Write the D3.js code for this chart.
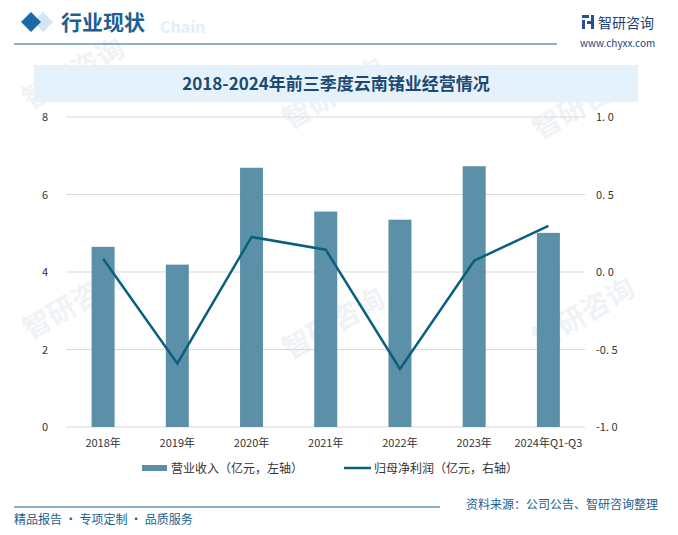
<!DOCTYPE html>
<html>
<head>
<meta charset="utf-8">
<script src="https://cdn.jsdelivr.net/npm/d3@7"></script>
<style>
  body { margin: 0; background: #fff; }
  svg text { font-family: "Noto Sans CJK SC", "Noto Sans", sans-serif; }
</style>
</head>
<body>
<div class="plot1"></div>
<script>
// data
var years = ["2018年", "2019年", "2020年", "2021年", "2022年", "2023年", "2024年Q1-Q3"];
var revenue = [4.65, 4.19, 6.69, 5.56, 5.35, 6.73, 5.01];
var netProfit = [0.086, -0.59, 0.226, 0.144, -0.626, 0.073, 0.297];
var leftTicks = [0, 2, 4, 6, 8];
var rightTicks = [-1.0, -0.5, 0.0, 0.5, 1.0];

var width = 678;
var height = 535;
var darkBlue = "#1b5e92";

var svg = d3.select(".plot1").append("svg")
  .attr("width", width)
  .attr("height", height);

// faint watermarks
var wm = svg.append("g").attr("fill", "#f0f3f6").attr("font-size", 28).attr("font-weight", "bold");
[[30, 110], [290, 130], [540, 140], [30, 340], [290, 360], [540, 350]].forEach(function(p) {
  wm.append("text")
    .attr("transform", "translate(" + p[0] + "," + p[1] + ") rotate(-30)")
    .text("智研咨询");
});

// header
svg.append("path")
  .attr("d", "M43,12 L53,22 L43,32 L33,22 Z")
  .attr("fill", "#d3e6f3");
svg.append("path")
  .attr("d", "M31,12 L41,22 L31,32 L21,22 Z")
  .attr("fill", "#1a6aa6");
svg.append("text")
  .attr("x", 160).attr("y", 33)
  .attr("font-size", 16).attr("font-weight", "bold")
  .attr("fill", "#e3eef8")
  .text("Chain");
svg.append("text")
  .attr("x", 61).attr("y", 30)
  .attr("font-size", 21).attr("font-weight", "bold")
  .attr("fill", "#1d5f93")
  .text("行业现状");
svg.append("line")
  .attr("x1", 14).attr("x2", 557).attr("y1", 44).attr("y2", 44)
  .attr("stroke", darkBlue).attr("stroke-width", 1);

// logo
var logo = svg.append("g").attr("fill", "#2a4d9a");
logo.append("rect").attr("x", 582).attr("y", 15).attr("width", 7).attr("height", 3);
logo.append("rect").attr("x", 582).attr("y", 20).attr("width", 3).attr("height", 9);
logo.append("rect").attr("x", 587).attr("y", 21).attr("width", 7).attr("height", 3);
logo.append("rect").attr("x", 591).attr("y", 15).attr("width", 3).attr("height", 14);
svg.append("text")
  .attr("x", 598).attr("y", 28)
  .attr("font-size", 14).attr("fill", "#1e3f7a")
  .text("智研咨询");
svg.append("text")
  .attr("x", 580).attr("y", 47)
  .attr("font-size", 10).attr("fill", "#1e3f7a")
  .attr("font-family", "Liberation Serif")
  .text("www.chyxx.com");

// title box
svg.append("rect")
  .attr("x", 34).attr("y", 65).attr("width", 604).attr("height", 37)
  .attr("fill", "#e6f2fb");
svg.append("text")
  .attr("x", 336).attr("y", 90)
  .attr("text-anchor", "middle")
  .attr("font-size", 17).attr("font-weight", "bold")
  .attr("fill", "#1c4a72")
  .text("2018-2024年前三季度云南锗业经营情况");

// scales
var x = d3.scaleBand().domain(years).range([66, 585.5]);
var yL = d3.scaleLinear().domain([0, 8]).range([427, 117]);
var yR = d3.scaleLinear().domain([-1, 1]).range([427, 117]);

// grid
svg.append("g").selectAll("line")
  .data(leftTicks)
  .join("line")
  .attr("x1", 66).attr("x2", 585)
  .attr("y1", function(d) { return yL(d); })
  .attr("y2", function(d) { return yL(d); })
  .attr("stroke", "#d9d9d9").attr("stroke-width", 1);

// left axis
svg.append("g").selectAll("text")
  .data(leftTicks)
  .join("text")
  .attr("x", 48)
  .attr("y", function(d) { return yL(d) + 4; })
  .attr("text-anchor", "end")
  .attr("font-size", 11).attr("fill", "#333")
  .text(function(d) { return d; });

// right axis
svg.append("g").selectAll("text")
  .data(rightTicks)
  .join("text")
  .attr("x", 596)
  .attr("y", function(d) { return yR(d) + 4; })
  .attr("font-size", 11).attr("fill", "#333")
  .text(function(d) { return d3.format(".1f")(d).replace("−", "-").replace(".", ". "); });

// bars
svg.append("g").selectAll("rect")
  .data(revenue)
  .join("rect")
  .attr("x", function(d, i) { return x(years[i]) + x.bandwidth() / 2 - 11.5; })
  .attr("width", 23)
  .attr("y", function(d) { return yL(d); })
  .attr("height", function(d) { return yL(0) - yL(d); })
  .attr("fill", "#5c90a8");

// line
var line = d3.line()
  .x(function(d, i) { return x(years[i]) + x.bandwidth() / 2; })
  .y(function(d) { return yR(d); });
svg.append("path")
  .datum(netProfit)
  .attr("d", line)
  .attr("fill", "none")
  .attr("stroke", "#0b5f7e")
  .attr("stroke-width", 2.5);

// x labels
svg.append("g").selectAll("text")
  .data(years)
  .join("text")
  .attr("x", function(d) { return x(d) + x.bandwidth() / 2; })
  .attr("y", 447)
  .attr("text-anchor", "middle")
  .attr("font-size", 11).attr("fill", "#333")
  .text(function(d) { return d; });

// legend
svg.append("rect")
  .attr("x", 142).attr("y", 465).attr("width", 25).attr("height", 6)
  .attr("fill", "#5c90a8");
svg.append("text")
  .attr("x", 171).attr("y", 473)
  .attr("font-size", 12).attr("fill", "#333")
  .text("营业收入（亿元，左轴）");
svg.append("line")
  .attr("x1", 344).attr("x2", 371).attr("y1", 468).attr("y2", 468)
  .attr("stroke", "#0b5f7e").attr("stroke-width", 2.5);
svg.append("text")
  .attr("x", 374).attr("y", 473)
  .attr("font-size", 12).attr("fill", "#333")
  .text("归母净利润（亿元，右轴）");

// footer
svg.append("line")
  .attr("x1", 14).attr("x2", 440).attr("y1", 507).attr("y2", 507)
  .attr("stroke", darkBlue).attr("stroke-width", 1);
svg.append("text")
  .attr("x", 658).attr("y", 509)
  .attr("text-anchor", "end")
  .attr("font-size", 12).attr("fill", darkBlue)
  .text("资料来源：公司公告、智研咨询整理");
svg.append("text")
  .attr("x", 14).attr("y", 524)
  .attr("font-size", 12).attr("fill", darkBlue)
  .text("精品报告 · 专项定制 · 品质服务");
</script>
</body>
</html>
